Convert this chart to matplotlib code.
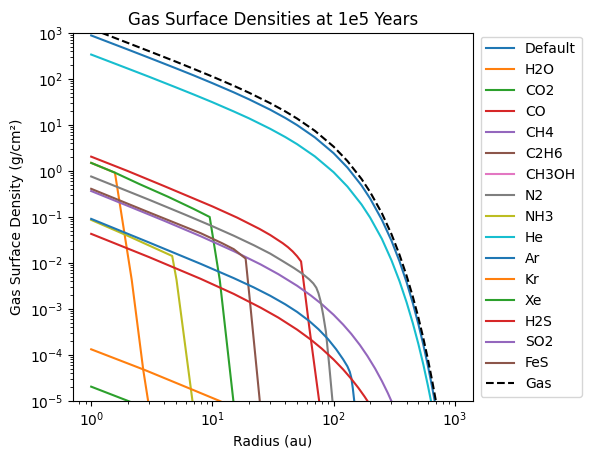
import matplotlib
matplotlib.use("Agg")
import matplotlib.pyplot as plt

# Radius grid (au) for the smooth bulk profiles
r_grid = [1, 1.5, 2, 3, 5, 7, 10, 15, 20, 30, 40, 50, 70, 100, 130, 170, 200,
          250, 300, 350, 400, 450, 500, 550, 600, 650, 700, 750]
default = [884, 587, 439, 290, 171, 120, 81.2, 51.3, 36.3, 21.5, 14.2, 9.94, 5.39,
           2.44, 1.19, 0.485, 0.253, 0.0873, 0.0307, 0.0108, 3.83e-3, 1.35e-3,
           4.75e-4, 1.67e-4, 5.81e-5, 2.01e-5, 6.96e-6, 2.39e-6]
he = [340, 226, 169, 112, 65.8, 46.1, 31.3, 19.7, 14.0, 8.26, 5.46, 3.83, 2.08,
      0.941, 0.459, 0.187, 0.0973, 0.0336, 0.0115, 4.0e-3, 1.40e-3, 4.95e-4,
      1.75e-4, 6.2e-5, 2.15e-5, 7.5e-6, 2.6e-6, 9.0e-7]
gas = [1232, 818, 610, 403, 238, 166, 113, 71.3, 50.5, 29.8, 19.7, 13.8, 7.49,
       3.39, 1.65, 0.671, 0.350, 0.121, 0.0425, 0.0150, 5.30e-3, 1.87e-3,
       6.58e-4, 2.31e-4, 8.05e-5, 2.78e-5, 9.64e-6, 3.31e-6]

# Individual species (radius, surface density)
h2o_r = [1, 1.57, 2.16, 2.69, 2.95, 3.1]
h2o = [1.5, 0.92, 4.3e-3, 4.7e-5, 1e-5, 4e-6]
co2_r = [1, 1.57, 2.5, 4.3, 7, 9.5, 11.5, 14.9, 15.5]
co2 = [1.5, 0.92, 0.52, 0.276, 0.15, 0.10, 4.3e-3, 1e-5, 4e-6]
co_r = [1, 2, 4, 10, 16, 24.5, 30, 38, 42, 46, 50, 53.9, 63, 76, 80]
co = [2.05, 1.0, 0.47, 0.17, 0.097, 0.055, 0.0406, 0.027, 0.0221, 0.0178,
      0.0140, 0.0108, 4e-4, 1e-5, 3.5e-6]
ch4_r = [1, 2, 4, 8, 15, 25, 35, 50, 65, 80, 100, 120, 140, 165, 190, 220,
         250, 280, 310, 340]
ch4 = [0.367, 0.175, 0.0829, 0.0382, 0.0181, 9.31e-3, 5.72e-3, 3.20e-3,
       1.96e-3, 1.27e-3, 7.48e-4, 4.57e-4, 2.87e-4, 1.64e-4, 9.53e-5, 5.07e-5,
       2.73e-5, 1.49e-5, 8.17e-6, 4.52e-6]
c2h6_r = [1, 3, 8, 12, 15, 18.8, 20.3, 24.6, 25.5]
c2h6 = [0.41, 0.126, 0.0445, 0.027, 0.0200, 0.0125, 1.7e-3, 1e-5, 4e-6]
ch3oh_r = [1, 1000]
ch3oh = [1e-8, 1e-11]
n2_r = [1, 3, 6, 10, 15, 22, 30, 38, 47, 55, 63, 68, 72, 75, 78, 82, 86.4, 92,
        97.9, 102]
n2 = [0.76, 0.2375, 0.1116, 0.0630, 0.0392, 0.0243, 0.0160, 0.0110, 0.0078,
      0.0059, 0.0044, 0.0036, 0.0029, 0.0022, 1.5e-3, 7.5e-4, 3.2e-4, 6e-5,
      1e-5, 3e-6]
nh3_r = [1, 2.02, 4.66, 5.06, 6.85, 7.2]
nh3 = [0.0865, 0.0386, 0.0142, 4.3e-3, 1e-5, 3.5e-6]
ar_r = [1, 3, 8, 15, 22, 30, 40, 50, 63, 75, 90, 105, 120, 130, 136, 140, 144,
        148, 152]
ar = [0.091, 0.02795, 9.59e-3, 4.69e-3, 2.94e-3, 1.94e-3, 1.26e-3, 8.64e-4,
      5.47e-4, 3.64e-4, 2.21e-4, 1.33e-4, 8.0e-5, 5.66e-5, 4.3e-5, 3.2e-5,
      1.9e-5, 1e-5, 4.5e-6]
kr_r = [1, 2.78, 6.72, 11.5, 14]
kr = [1.33e-4, 4.7e-5, 1.8e-5, 1e-5, 7.8e-6]
xe_r = [1, 2.02, 3]
xe = [2.05e-5, 1e-5, 6.6e-6]
h2s_r = [1, 3, 8, 15, 25, 35, 50, 65, 80, 100, 120, 140, 160, 180, 200, 220]
h2s = [0.043, 0.01345, 4.53e-3, 2.13e-3, 1.07e-3, 6.5e-4, 3.56e-4, 2.15e-4,
       1.37e-4, 7.97e-5, 4.84e-5, 3.02e-5, 1.93e-5, 1.25e-5, 8.19e-6, 5.43e-6]
so2_r = [1, 1000]
so2 = [1e-8, 1e-11]
fes_r = [1, 1000]
fes = [1e-8, 1e-11]

species = [
    ("Default", r_grid, default),
    ("H2O", h2o_r, h2o),
    ("CO2", co2_r, co2),
    ("CO", co_r, co),
    ("CH4", ch4_r, ch4),
    ("C2H6", c2h6_r, c2h6),
    ("CH3OH", ch3oh_r, ch3oh),
    ("N2", n2_r, n2),
    ("NH3", nh3_r, nh3),
    ("He", r_grid, he),
    ("Ar", ar_r, ar),
    ("Kr", kr_r, kr),
    ("Xe", xe_r, xe),
    ("H2S", h2s_r, h2s),
    ("SO2", so2_r, so2),
    ("FeS", fes_r, fes),
]

fig = plt.figure(figsize=(5.9, 4.59), dpi=100)
ax = fig.add_axes([73 / 590, 1 - 401 / 459, 400 / 590, 368 / 459])

for name, rr, vals in species:
    ax.plot(rr, vals, label=name)
ax.plot(r_grid, gas, "k--", label="Gas")

ax.set_xscale("log")
ax.set_yscale("log")
ax.set_xlim(10 ** -0.15, 10 ** 3.15)
ax.set_ylim(1e-5, 1e3)
ax.set_xlabel("Radius (au)")
ax.set_ylabel("Gas Surface Density (g/cm²)")
ax.set_title("Gas Surface Densities at 1e5 Years")
ax.legend(loc="upper left", bbox_to_anchor=(1.019, 0.99), borderaxespad=0)

fig.savefig("out.png", dpi=100)
